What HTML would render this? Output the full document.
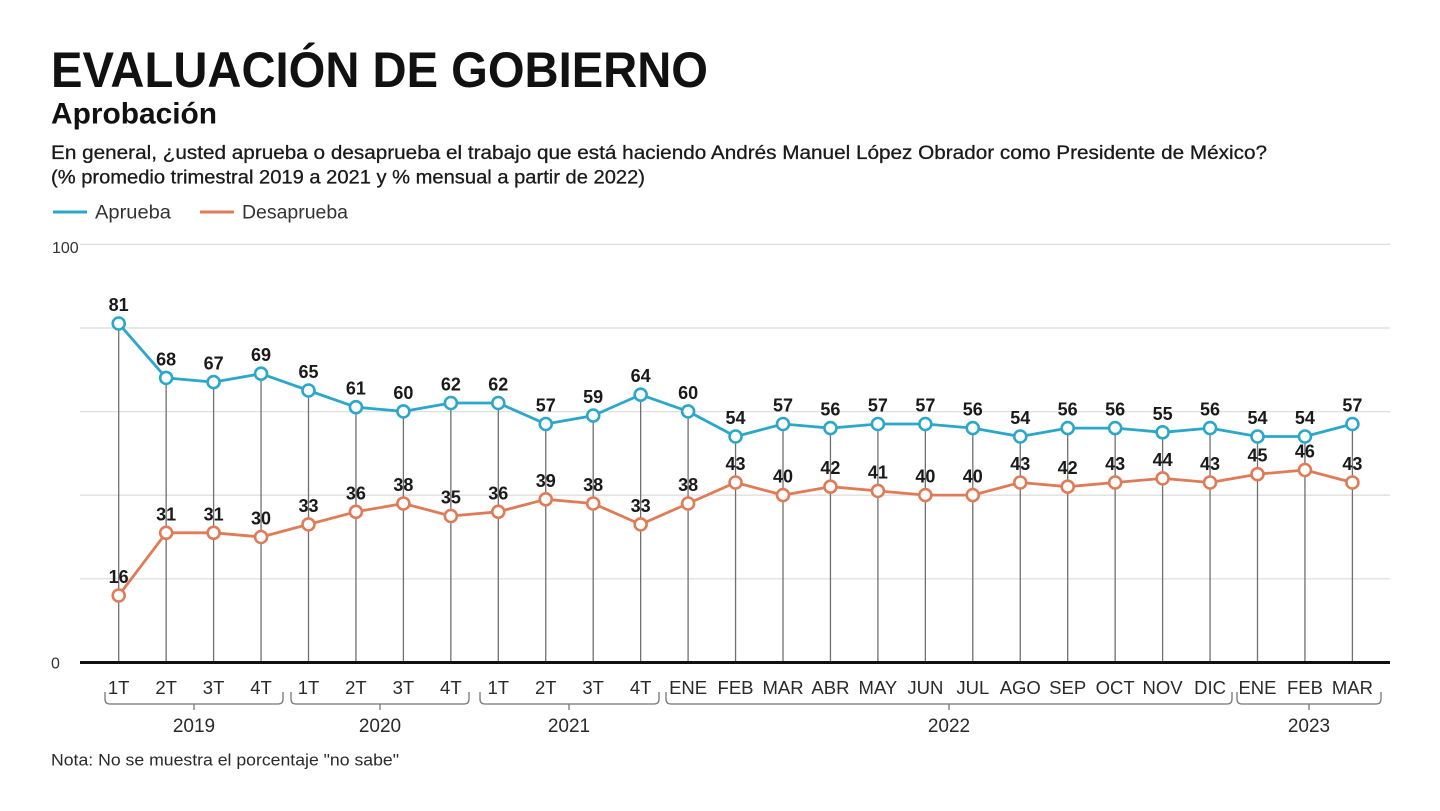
<!DOCTYPE html>
<html><head><meta charset="utf-8"><style>
html,body{margin:0;padding:0;background:#fff;}
svg{display:block;font-family:"Liberation Sans",sans-serif;}
</style></head><body>
<svg width="1440" height="811" viewBox="0 0 1440 811" xmlns="http://www.w3.org/2000/svg">
<rect width="1440" height="811" fill="#fff"/>
<text x="51" y="87" font-size="50" font-weight="bold" fill="#111" textLength="657" lengthAdjust="spacingAndGlyphs">EVALUACIÓN DE GOBIERNO</text>
<text x="51" y="123.5" font-size="30" font-weight="bold" fill="#111" textLength="166" lengthAdjust="spacingAndGlyphs">Aprobación</text>
<text x="51" y="159" font-size="19.5" fill="#1a1a1a" stroke="#1a1a1a" stroke-width="0.3" textLength="1216" lengthAdjust="spacingAndGlyphs">En general, ¿usted aprueba o desaprueba el trabajo que está haciendo Andrés Manuel López Obrador como Presidente de México?</text>
<text x="51" y="183.5" font-size="19.5" fill="#1a1a1a" stroke="#1a1a1a" stroke-width="0.3" textLength="594" lengthAdjust="spacingAndGlyphs">(% promedio trimestral 2019 a 2021 y % mensual a partir de 2022)</text>
<line x1="53" y1="212" x2="87" y2="212" stroke="#2ba7c9" stroke-width="3"/>
<text x="95" y="218.5" font-size="19" fill="#333" textLength="76" lengthAdjust="spacingAndGlyphs">Aprueba</text>
<line x1="200" y1="212" x2="234" y2="212" stroke="#e07b57" stroke-width="3"/>
<text x="242" y="218.5" font-size="19" fill="#333" textLength="106" lengthAdjust="spacingAndGlyphs">Desaprueba</text>
<g stroke="#dcdcdc" stroke-width="1.2">
<line x1="80" y1="244.3" x2="1390" y2="244.3"/>
<line x1="80" y1="328" x2="1390" y2="328"/>
<line x1="80" y1="411.7" x2="1390" y2="411.7"/>
<line x1="80" y1="495.1" x2="1390" y2="495.1"/>
<line x1="80" y1="578.8" x2="1390" y2="578.8"/>
</g>
<text x="52" y="253" font-size="16" fill="#333">100</text>
<text x="51" y="668.5" font-size="16" fill="#333">0</text>
<g stroke="#707070" stroke-width="1.3">
<line x1="118.7" y1="323.5" x2="118.7" y2="662"/>
<line x1="166.15" y1="377.9" x2="166.15" y2="662"/>
<line x1="213.6" y1="382.1" x2="213.6" y2="662"/>
<line x1="261.05" y1="373.7" x2="261.05" y2="662"/>
<line x1="308.5" y1="390.5" x2="308.5" y2="662"/>
<line x1="355.95" y1="407.2" x2="355.95" y2="662"/>
<line x1="403.4" y1="411.4" x2="403.4" y2="662"/>
<line x1="450.85" y1="403" x2="450.85" y2="662"/>
<line x1="498.3" y1="403" x2="498.3" y2="662"/>
<line x1="545.75" y1="424" x2="545.75" y2="662"/>
<line x1="593.2" y1="415.6" x2="593.2" y2="662"/>
<line x1="640.65" y1="394.7" x2="640.65" y2="662"/>
<line x1="688.1" y1="411.4" x2="688.1" y2="662"/>
<line x1="735.55" y1="436.5" x2="735.55" y2="662"/>
<line x1="783" y1="424" x2="783" y2="662"/>
<line x1="830.45" y1="428.1" x2="830.45" y2="662"/>
<line x1="877.9" y1="424" x2="877.9" y2="662"/>
<line x1="925.35" y1="424" x2="925.35" y2="662"/>
<line x1="972.8" y1="428.1" x2="972.8" y2="662"/>
<line x1="1020.25" y1="436.5" x2="1020.25" y2="662"/>
<line x1="1067.7" y1="428.1" x2="1067.7" y2="662"/>
<line x1="1115.15" y1="428.1" x2="1115.15" y2="662"/>
<line x1="1162.6" y1="432.3" x2="1162.6" y2="662"/>
<line x1="1210.05" y1="428.1" x2="1210.05" y2="662"/>
<line x1="1257.5" y1="436.5" x2="1257.5" y2="662"/>
<line x1="1304.95" y1="436.5" x2="1304.95" y2="662"/>
<line x1="1352.4" y1="424" x2="1352.4" y2="662"/>
</g>
<line x1="80" y1="662.5" x2="1390" y2="662.5" stroke="#111" stroke-width="3"/>
<polyline fill="none" stroke="#2ba7c9" stroke-width="2.8" stroke-linejoin="round" points="118.7,323.5 166.15,377.9 213.6,382.1 261.05,373.7 308.5,390.5 355.95,407.2 403.4,411.4 450.85,403 498.3,403 545.75,424 593.2,415.6 640.65,394.7 688.1,411.4 735.55,436.5 783,424 830.45,428.1 877.9,424 925.35,424 972.8,428.1 1020.25,436.5 1067.7,428.1 1115.15,428.1 1162.6,432.3 1210.05,428.1 1257.5,436.5 1304.95,436.5 1352.4,424"/>
<polyline fill="none" stroke="#e07b57" stroke-width="2.8" stroke-linejoin="round" points="118.7,595.5 166.15,532.8 213.6,532.8 261.05,537 308.5,524.4 355.95,511.8 403.4,503.5 450.85,516 498.3,511.8 545.75,499.3 593.2,503.5 640.65,524.4 688.1,503.5 735.55,482.5 783,495.1 830.45,486.7 877.9,490.9 925.35,495.1 972.8,495.1 1020.25,482.5 1067.7,486.7 1115.15,482.5 1162.6,478.4 1210.05,482.5 1257.5,474.2 1304.95,470 1352.4,482.5"/>
<g fill="#fff" stroke="#2ba7c9" stroke-width="2.6">
<circle cx="118.7" cy="323.5" r="6"/><circle cx="166.15" cy="377.9" r="6"/><circle cx="213.6" cy="382.1" r="6"/><circle cx="261.05" cy="373.7" r="6"/><circle cx="308.5" cy="390.5" r="6"/><circle cx="355.95" cy="407.2" r="6"/><circle cx="403.4" cy="411.4" r="6"/><circle cx="450.85" cy="403" r="6"/><circle cx="498.3" cy="403" r="6"/><circle cx="545.75" cy="424" r="6"/><circle cx="593.2" cy="415.6" r="6"/><circle cx="640.65" cy="394.7" r="6"/><circle cx="688.1" cy="411.4" r="6"/><circle cx="735.55" cy="436.5" r="6"/><circle cx="783" cy="424" r="6"/><circle cx="830.45" cy="428.1" r="6"/><circle cx="877.9" cy="424" r="6"/><circle cx="925.35" cy="424" r="6"/><circle cx="972.8" cy="428.1" r="6"/><circle cx="1020.25" cy="436.5" r="6"/><circle cx="1067.7" cy="428.1" r="6"/><circle cx="1115.15" cy="428.1" r="6"/><circle cx="1162.6" cy="432.3" r="6"/><circle cx="1210.05" cy="428.1" r="6"/><circle cx="1257.5" cy="436.5" r="6"/><circle cx="1304.95" cy="436.5" r="6"/><circle cx="1352.4" cy="424" r="6"/>
</g>
<g fill="#fff" stroke="#e07b57" stroke-width="2.6">
<circle cx="118.7" cy="595.5" r="6"/><circle cx="166.15" cy="532.8" r="6"/><circle cx="213.6" cy="532.8" r="6"/><circle cx="261.05" cy="537" r="6"/><circle cx="308.5" cy="524.4" r="6"/><circle cx="355.95" cy="511.8" r="6"/><circle cx="403.4" cy="503.5" r="6"/><circle cx="450.85" cy="516" r="6"/><circle cx="498.3" cy="511.8" r="6"/><circle cx="545.75" cy="499.3" r="6"/><circle cx="593.2" cy="503.5" r="6"/><circle cx="640.65" cy="524.4" r="6"/><circle cx="688.1" cy="503.5" r="6"/><circle cx="735.55" cy="482.5" r="6"/><circle cx="783" cy="495.1" r="6"/><circle cx="830.45" cy="486.7" r="6"/><circle cx="877.9" cy="490.9" r="6"/><circle cx="925.35" cy="495.1" r="6"/><circle cx="972.8" cy="495.1" r="6"/><circle cx="1020.25" cy="482.5" r="6"/><circle cx="1067.7" cy="486.7" r="6"/><circle cx="1115.15" cy="482.5" r="6"/><circle cx="1162.6" cy="478.4" r="6"/><circle cx="1210.05" cy="482.5" r="6"/><circle cx="1257.5" cy="474.2" r="6"/><circle cx="1304.95" cy="470" r="6"/><circle cx="1352.4" cy="482.5" r="6"/>
</g>
<g font-size="18" font-weight="bold" fill="#1a1a1a" text-anchor="middle">
<text x="118.7" y="311">81</text><text x="166.15" y="365.4">68</text><text x="213.6" y="369.6">67</text><text x="261.05" y="361.2">69</text><text x="308.5" y="378">65</text><text x="355.95" y="394.7">61</text><text x="403.4" y="398.9">60</text><text x="450.85" y="390.5">62</text><text x="498.3" y="390.5">62</text><text x="545.75" y="411.5">57</text><text x="593.2" y="403.1">59</text><text x="640.65" y="382.2">64</text><text x="688.1" y="398.9">60</text><text x="735.55" y="424">54</text><text x="783" y="411.5">57</text><text x="830.45" y="415.6">56</text><text x="877.9" y="411.5">57</text><text x="925.35" y="411.5">57</text><text x="972.8" y="415.6">56</text><text x="1020.25" y="424">54</text><text x="1067.7" y="415.6">56</text><text x="1115.15" y="415.6">56</text><text x="1162.6" y="419.8">55</text><text x="1210.05" y="415.6">56</text><text x="1257.5" y="424">54</text><text x="1304.95" y="424">54</text><text x="1352.4" y="411.5">57</text>
<text x="118.7" y="583">16</text><text x="166.15" y="520.3">31</text><text x="213.6" y="520.3">31</text><text x="261.05" y="524.5">30</text><text x="308.5" y="511.9">33</text><text x="355.95" y="499.3">36</text><text x="403.4" y="491">38</text><text x="450.85" y="503.5">35</text><text x="498.3" y="499.3">36</text><text x="545.75" y="486.8">39</text><text x="593.2" y="491">38</text><text x="640.65" y="511.9">33</text><text x="688.1" y="491">38</text><text x="735.55" y="470">43</text><text x="783" y="482.6">40</text><text x="830.45" y="474.2">42</text><text x="877.9" y="478.4">41</text><text x="925.35" y="482.6">40</text><text x="972.8" y="482.6">40</text><text x="1020.25" y="470">43</text><text x="1067.7" y="474.2">42</text><text x="1115.15" y="470">43</text><text x="1162.6" y="465.9">44</text><text x="1210.05" y="470">43</text><text x="1257.5" y="461.7">45</text><text x="1304.95" y="457.5">46</text><text x="1352.4" y="470">43</text>
</g>
<g font-size="18.5" fill="#2a2a2a" text-anchor="middle">
<text x="118.7" y="694">1T</text><text x="166.15" y="694">2T</text><text x="213.6" y="694">3T</text><text x="261.05" y="694">4T</text><text x="308.5" y="694">1T</text><text x="355.95" y="694">2T</text><text x="403.4" y="694">3T</text><text x="450.85" y="694">4T</text><text x="498.3" y="694">1T</text><text x="545.75" y="694">2T</text><text x="593.2" y="694">3T</text><text x="640.65" y="694">4T</text><text x="688.1" y="694">ENE</text><text x="735.55" y="694">FEB</text><text x="783" y="694">MAR</text><text x="830.45" y="694">ABR</text><text x="877.9" y="694">MAY</text><text x="925.35" y="694">JUN</text><text x="972.8" y="694">JUL</text><text x="1020.25" y="694">AGO</text><text x="1067.7" y="694">SEP</text><text x="1115.15" y="694">OCT</text><text x="1162.6" y="694">NOV</text><text x="1210.05" y="694">DIC</text><text x="1257.5" y="694">ENE</text><text x="1304.95" y="694">FEB</text><text x="1352.4" y="694">MAR</text>
</g>
<g fill="none" stroke="#777" stroke-width="1.3">
<path d="M105 692 v7 q0 5 5 5 H278 q5 0 5 -5 v-7 M194 704 v6"/>
<path d="M291 692 v7 q0 5 5 5 H464 q5 0 5 -5 v-7 M380 704 v6"/>
<path d="M480 692 v7 q0 5 5 5 H654 q5 0 5 -5 v-7 M569 704 v6"/>
<path d="M666 692 v7 q0 5 5 5 H1227 q5 0 5 -5 v-7 M949 704 v6"/>
<path d="M1237 692 v7 q0 5 5 5 H1376 q5 0 5 -5 v-7 M1309 704 v6"/>
</g>
<g font-size="19" fill="#2a2a2a" text-anchor="middle">
<text x="194" y="732">2019</text><text x="380" y="732">2020</text><text x="569" y="732">2021</text><text x="949" y="732">2022</text><text x="1309" y="732">2023</text>
</g>
<text x="51" y="765.5" font-size="17" fill="#2a2a2a" textLength="348" lengthAdjust="spacingAndGlyphs">Nota: No se muestra el porcentaje "no sabe"</text>
</svg>
</body></html>
